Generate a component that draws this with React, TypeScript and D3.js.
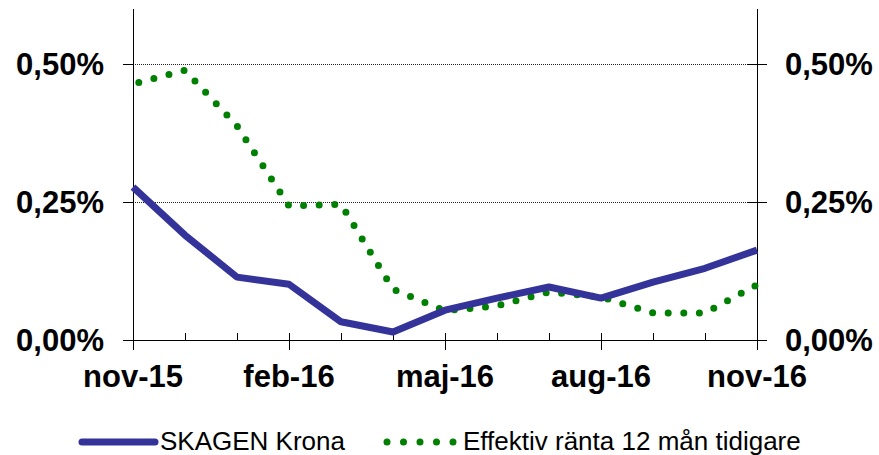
import React, { useEffect, useRef } from 'react';
import * as d3 from 'd3';

// months from nov-15 to nov-16, one entry per point
const months = ['nov-15', 'dec-15', 'jan-16', 'feb-16', 'mar-16', 'apr-16', 'maj-16', 'jun-16', 'jul-16', 'aug-16', 'sep-16', 'okt-16', 'nov-16'];
const labeledMonths = ['nov-15', 'feb-16', 'maj-16', 'aug-16', 'nov-16'];

// values in percent
const skagenKrona = [0.277, 0.19, 0.114, 0.101, 0.033, 0.0145, 0.054, 0.076, 0.096, 0.076, 0.105, 0.13, 0.163];
const effektivRanta = [0.464, 0.489, 0.388, 0.243, 0.246, 0.092, 0.053, 0.062, 0.087, 0.078, 0.049, 0.049, 0.1];

const yTicks = [0, 0.25, 0.5];
const gridTicks = [0.25, 0.5];

const FONT = '"Liberation Sans", Arial, sans-serif';

const Chart = () => {
  const ref = useRef<SVGSVGElement | null>(null);

  useEffect(() => {
    const width = 879;
    const height = 455;
    const margin = { top: 9, right: 122, bottom: 115, left: 133 };

    const svg = d3.select(ref.current);
    svg.selectAll('*').remove();
    svg.attr('width', width).attr('height', height);

    const x = d3.scalePoint<string>()
      .domain(months)
      .range([margin.left, width - margin.right]);

    const y = d3.scaleLinear()
      .domain([0, 0.6])
      .range([height - margin.bottom, margin.top]);

    const x0 = margin.left;
    const x1 = width - margin.right;
    const yZero = y(0);

    const axes = svg.append('g').attr('shape-rendering', 'crispEdges');

    // gridlines
    axes.append('g')
      .selectAll('line')
      .data(gridTicks)
      .enter().append('line')
      .attr('x1', x0).attr('x2', x1)
      .attr('y1', d => y(d)).attr('y2', d => y(d))
      .attr('stroke', '#222')
      .attr('stroke-width', 1)
      .attr('stroke-dasharray', '1 1');

    // vertical axes
    [x0, x1].forEach(xx => {
      axes.append('line')
        .attr('x1', xx).attr('x2', xx)
        .attr('y1', margin.top).attr('y2', yZero)
        .attr('stroke', '#000').attr('stroke-width', 1);
    });

    // y ticks: left outward, right crossing
    axes.append('g').selectAll('line')
      .data(yTicks)
      .enter().append('line')
      .attr('x1', x0 - 10).attr('x2', x0)
      .attr('y1', d => y(d)).attr('y2', d => y(d))
      .attr('stroke', '#000');
    axes.append('g').selectAll('line')
      .data(yTicks)
      .enter().append('line')
      .attr('x1', x1 - 10).attr('x2', x1 + 10)
      .attr('y1', d => y(d)).attr('y2', d => y(d))
      .attr('stroke', '#000');

    // x axis line
    axes.append('line')
      .attr('x1', x0 - 10).attr('x2', x1 + 10)
      .attr('y1', yZero).attr('y2', yZero)
      .attr('stroke', '#000').attr('stroke-width', 1);

    // x ticks: minor inside, major crossing
    axes.append('g').selectAll('line')
      .data(months)
      .enter().append('line')
      .attr('x1', d => x(d)!).attr('x2', d => x(d)!)
      .attr('y1', yZero - 7)
      .attr('y2', d => labeledMonths.includes(d) ? yZero + 10 : yZero)
      .attr('stroke', '#000');

    // y labels
    const fmt = (v: number) => v.toFixed(2).replace('.', ',') + '%';
    svg.append('g').selectAll('text')
      .data(yTicks)
      .enter().append('text')
      .attr('x', 104)
      .attr('y', d => y(d))
      .attr('dy', '0.36em')
      .attr('text-anchor', 'end')
      .attr('font-family', FONT)
      .attr('font-weight', 'bold')
      .attr('font-size', 31)
      .text(fmt);
    svg.append('g').selectAll('text')
      .data(yTicks)
      .enter().append('text')
      .attr('x', 785)
      .attr('y', d => y(d))
      .attr('dy', '0.36em')
      .attr('text-anchor', 'start')
      .attr('font-family', FONT)
      .attr('font-weight', 'bold')
      .attr('font-size', 31)
      .text(fmt);

    // x labels
    svg.append('g').selectAll('text')
      .data(labeledMonths)
      .enter().append('text')
      .attr('x', d => x(d)!)
      .attr('y', 387)
      .attr('text-anchor', 'middle')
      .attr('font-family', FONT)
      .attr('font-weight', 'bold')
      .attr('font-size', 31)
      .text(d => d);

    const line = d3.line<number>()
      .x((_, i) => x(months[i])!)
      .y(d => y(d));

    // effektiv ränta, dotted green
    svg.append('path')
      .datum(effektivRanta)
      .attr('d', line)
      .attr('fill', 'none')
      .attr('stroke', '#008000')
      .attr('stroke-width', 7)
      .attr('stroke-linecap', 'round')
      .attr('stroke-dasharray', '0 15.6')
      .attr('stroke-dashoffset', 9.6);

    // SKAGEN Krona, solid blue
    svg.append('path')
      .datum(skagenKrona)
      .attr('d', line)
      .attr('fill', 'none')
      .attr('stroke', '#333399')
      .attr('stroke-width', 7)
      .attr('stroke-linejoin', 'round');

    // legend
    const legY = 442;
    svg.append('line')
      .attr('x1', 82).attr('x2', 155)
      .attr('y1', legY).attr('y2', legY)
      .attr('stroke', '#333399').attr('stroke-width', 7)
      .attr('stroke-linecap', 'round');
    svg.append('text')
      .attr('x', 160).attr('y', 450)
      .attr('font-family', FONT).attr('font-size', 26)
      .text('SKAGEN Krona');
    svg.append('line')
      .attr('x1', 387).attr('x2', 453.1)
      .attr('y1', legY).attr('y2', legY)
      .attr('stroke', '#008000').attr('stroke-width', 7)
      .attr('stroke-linecap', 'round')
      .attr('stroke-dasharray', '0 16.5');
    svg.append('text')
      .attr('x', 463).attr('y', 450)
      .attr('font-family', FONT).attr('font-size', 26)
      .text('Effektiv ränta 12 mån tidigare');
  }, []);

  return <svg ref={ref} style={{ position: 'absolute', left: 0, top: 0, background: '#fff' }} />;
};

export default function App() {
  return <Chart />;
}
